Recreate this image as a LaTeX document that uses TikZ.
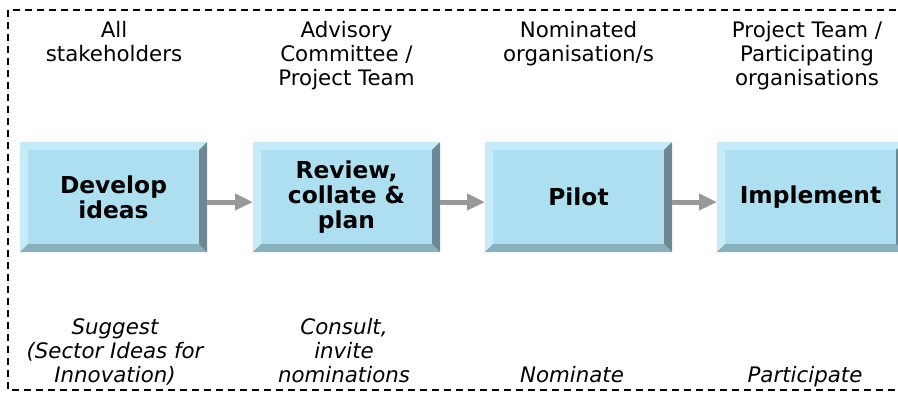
\documentclass[tikz,border=0pt]{standalone}
\usepackage{fontspec}
\setmainfont{DejaVu Sans}
\usetikzlibrary{calc,arrows.meta}
\definecolor{face}{HTML}{ADDFF1}
\definecolor{bevtop}{HTML}{C4E9F7}
\definecolor{bevleft}{HTML}{C8EBF8}
\definecolor{bevright}{HTML}{6B8894}
\definecolor{bevbottom}{HTML}{8AB0BE}
\definecolor{arrowgray}{HTML}{999999}
\tikzset{
  bevbox/.style={fill=face, minimum width=140.25pt, minimum height=82.5pt,
    inner sep=0pt, outer sep=0pt, align=center,
    font=\bfseries\fontsize{17.5}{18.75}\selectfont,
    path picture={
      \fill[bevtop] (path picture bounding box.north west) -- (path picture bounding box.north east)
        -- ([shift={(-6pt,-6pt)}]path picture bounding box.north east)
        -- ([shift={(6pt,-6pt)}]path picture bounding box.north west) -- cycle;
      \fill[bevleft] (path picture bounding box.north west) -- (path picture bounding box.south west)
        -- ([shift={(6pt,6pt)}]path picture bounding box.south west)
        -- ([shift={(6pt,-6pt)}]path picture bounding box.north west) -- cycle;
      \fill[bevbottom] (path picture bounding box.south west) -- (path picture bounding box.south east)
        -- ([shift={(-6pt,6pt)}]path picture bounding box.south east)
        -- ([shift={(6pt,6pt)}]path picture bounding box.south west) -- cycle;
      \fill[bevright] (path picture bounding box.north east) -- (path picture bounding box.south east)
        -- ([shift={(-6pt,6pt)}]path picture bounding box.south east)
        -- ([shift={(-6pt,-6pt)}]path picture bounding box.north east) -- cycle;
    }},
  flowarrow/.style={draw=arrowgray, line width=3.75pt, -{Triangle[length=13.5pt,width=12pt]}},
  toplab/.style={align=center, anchor=base, inner sep=0pt, font=\fontsize{16}{18}\selectfont},
  botlab/.style={align=center, anchor=base, inner sep=0pt, font=\itshape\fontsize{16}{18}\selectfont},
  frame/.style={draw=black, line width=1.8pt, dash pattern=on 5.5pt off 3.5pt}
}
\begin{document}
\begin{tikzpicture}[x=0.75pt,y=-0.75pt]
\useasboundingbox (0,0) rectangle (898,396);
\clip (0,0) rectangle (898,396);
\draw[frame] (8,10) rectangle (906,390);

\node[bevbox] (b1) at (113.5,197) {Develop\\ideas};
\node[bevbox] (b2) at (346.5,197) {Review,\\collate \&\\plan};
\node[bevbox] (b3) at (578.5,197) {Pilot};
\node[bevbox] (b4) at (810.5,197) {Implement};

\draw[flowarrow] ([yshift=-3.75pt]b1.east) -- ([yshift=-3.75pt]b2.west);
\draw[flowarrow] ([yshift=-3.75pt]b2.east) -- ([yshift=-3.75pt]b3.west);
\draw[flowarrow] ([yshift=-3.75pt]b3.east) -- ([yshift=-3.75pt]b4.west);

\node[toplab] (t1) at (114,61) {All\\stakeholders};
\node[toplab] (t2) at (346.5,85) {Advisory\\Committee /\\Project Team};
\node[toplab] (t3) at (578.5,61) {Nominated\\organisation/s};
\node[toplab] (t4) at (807,85) {Project Team /\\Participating\\organisations};

\node[botlab] (s1) at (115,382) {Suggest\\(Sector Ideas for\\Innovation)};
\node[botlab] (s2) at (344,382) {Consult,\\invite\\nominations};
\node[botlab] (s3) at (572,382) {Nominate};
\node[botlab] (s4) at (805,382) {Participate};
\end{tikzpicture}
\end{document}
